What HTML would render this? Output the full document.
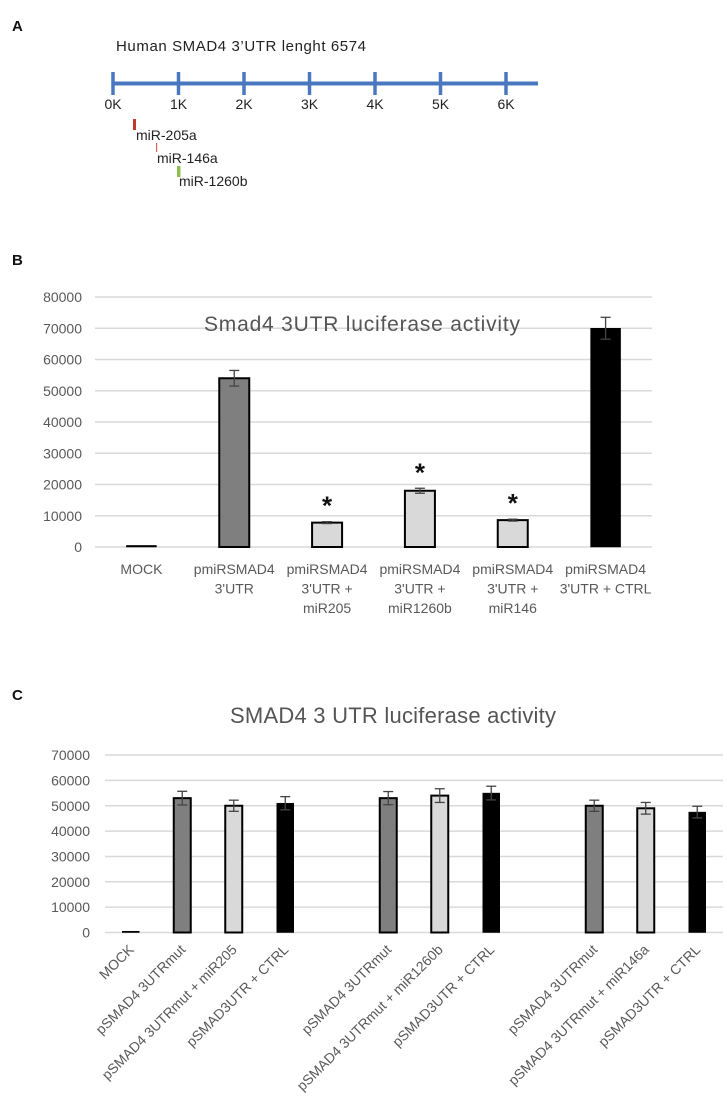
<!DOCTYPE html>
<html><head><meta charset="utf-8"><style>
html,body{margin:0;padding:0;background:#fff;}
svg{display:block;font-family:"Liberation Sans",sans-serif;}
</style></head><body>
<svg id="fig" width="727" height="1106" viewBox="0 0 727 1106" xmlns="http://www.w3.org/2000/svg">
<g id="panelA">
<text x="12" y="31" font-size="15" font-weight="bold" fill="#111">A</text>
<text x="116" y="51" font-size="15" fill="#222" textLength="250">Human SMAD4 3’UTR lenght 6574</text>
<line x1="113" y1="83.5" x2="538" y2="83.5" stroke="#4a78c0" stroke-width="4"/>
<g id="utrTicks"></g>
<rect x="133" y="119" width="3" height="11" fill="#c0392b"/>
<text x="136" y="140" font-size="14" fill="#222">miR-205a</text>
<rect x="156" y="143" width="1.2" height="9" fill="#e06060"/>
<text x="157" y="163" font-size="14" fill="#222">miR-146a</text>
<rect x="177" y="166" width="3.5" height="11" fill="#8dc050"/>
<text x="179" y="186" font-size="14" fill="#222">miR-1260b</text>
</g>
<g id="panelB">
<text x="12" y="265" font-size="15" font-weight="bold" fill="#111">B</text>
<g id="gridB"></g>
<g id="barsB"></g>
<text x="204" y="331" font-size="21" fill="#555" textLength="316">Smad4 3UTR luciferase activity</text>
</g>
<g id="panelC">
<text x="12" y="700" font-size="15" font-weight="bold" fill="#111">C</text>
<text x="230" y="723" font-size="22" fill="#555" textLength="326">SMAD4 3 UTR luciferase activity</text>
<g id="gridC"></g>
<g id="barsC"></g>
</g>
</svg>
<script>
// Panel A data
const utrTickLabels = ["0K","1K","2K","3K","4K","5K","6K"];
// Panel B data
const bCategories = [["MOCK"],["pmiRSMAD4","3'UTR"],["pmiRSMAD4","3'UTR +","miR205"],["pmiRSMAD4","3'UTR +","miR1260b"],["pmiRSMAD4","3'UTR +","miR146"],["pmiRSMAD4","3'UTR + CTRL"]];
const bValues = [500, 54000, 7800, 18000, 8600, 70000];
const bErrors = [0, 2500, 300, 800, 300, 3500];
const bStars = [false, false, true, true, true, false];
const bTypes = ["dark","mid","light","light","light","dark"];
const bTicks = [0,10000,20000,30000,40000,50000,60000,70000,80000];
// Panel C data
const cCategories = ["MOCK","pSMAD4 3UTRmut","pSMAD4 3UTRmut + miR205","pSMAD3UTR + CTRL","","pSMAD4 3UTRmut","pSMAD4 3UTRmut + miR1260b","pSMAD3UTR + CTRL","","pSMAD4 3UTRmut","pSMAD4 3UTRmut + miR146a","pSMAD3UTR + CTRL"];
const cValues = [500, 53000, 50000, 51000, null, 53000, 54000, 55000, null, 50000, 49000, 47500];
const cErrors = [0, 2700, 2200, 2600, 0, 2600, 2700, 2700, 0, 2200, 2300, 2300];
const cTypes = ["dark","mid","light","dark","","mid","light","dark","","mid","light","dark"];
const cTicks = [0,10000,20000,30000,40000,50000,60000,70000];

const NS="http://www.w3.org/2000/svg";
function mk(tag, attrs, parent){const e=document.createElementNS(NS,tag);for(const k in attrs)e.setAttribute(k,attrs[k]);parent.appendChild(e);return e;}
const fills={dark:"#000",mid:"#7f7f7f",light:"#d9d9d9"};

// Panel A ticks
const tA=document.getElementById("utrTicks");
const ax=i=>113+i*65.5;
utrTickLabels.forEach((l,i)=>{
  const t=mk("line",{x1:ax(i),x2:ax(i),y1:72,y2:95,stroke:"#4a78c0","stroke-width":3.5},tA);
  
  
  const tx=mk("text",{x:ax(i),y:109,"font-size":14,fill:"#222","text-anchor":"middle"},tA);
  tx.textContent=l;
  
  
});

function drawChart(opt){
  const g=document.getElementById(opt.grid), b=document.getElementById(opt.bars);
  const y=v=>opt.y0-(v/10000)*opt.step;
  const xc=i=>opt.x0+(i+0.5)*(opt.x1-opt.x0)/opt.n;
  opt.ticks.forEach(t=>{
    const ln=mk("line",{x1:opt.x0,x2:opt.x1,y1:y(t),y2:y(t),stroke:"#d9d9d9","stroke-width":1.5},g);
    
    
    const tx=mk("text",{x:opt.lx,y:y(t)+5,"font-size":14,fill:"#595959","text-anchor":"end"},g);
    tx.textContent=String(t);
    
    
  });
  opt.values.forEach((v,i)=>{
    if(v==null)return;
    const c=xc(i), w=opt.bw, top=y(v);
    const r=mk("rect",{x:c-w/2,y:top,width:w,height:opt.y0-top,fill:fills[opt.types[i]],stroke:"#000","stroke-width":opt.types[i]==="dark"?0.5:2},b);
    
    
    const e=opt.errors[i];
    if(e>0){
      const eg=mk("g",{stroke:"#444","stroke-width":1.3},b);
      
      
      mk("line",{x1:c,x2:c,y1:y(v+e),y2:y(v-e)},eg);
      mk("line",{x1:c-5,x2:c+5,y1:y(v+e),y2:y(v+e)},eg);
      mk("line",{x1:c-5,x2:c+5,y1:y(v-e),y2:y(v-e)},eg);
    }
    if(opt.stars && opt.stars[i]){
      const s=mk("text",{x:c,y:y(v+(e||0))-7,"font-size":26,"font-weight":"bold",fill:"#111","text-anchor":"middle"},b);
      s.textContent="*";
      s.textContent="*";
      
      
    }
  });
  opt.cats.forEach((cat,i)=>{
    const c=xc(i);
    if(opt.rotate){
      if(!cat)return;
      const tx=mk("text",{x:c+4,y:opt.y0+18,"font-size":14,fill:"#595959","text-anchor":"end",transform:`rotate(-45 ${c+4} ${opt.y0+18})`},b);
      tx.textContent=cat;
      
      
    } else {
      cat.forEach((line,j)=>{
        const tx=mk("text",{x:c,y:opt.y0+27+j*19.5,"font-size":14,fill:"#595959","text-anchor":"middle"},b);
        tx.textContent=line;
        
        
      });
    }
  });
}
drawChart({grid:"gridB",bars:"barsB",x0:95,x1:652,n:bValues.length,y0:547,step:31.25,lx:82,bw:30,
  ticks:bTicks,values:bValues,errors:bErrors,types:bTypes,stars:bStars,cats:bCategories,rotate:false});
drawChart({grid:"gridC",bars:"barsC",x0:105,x1:723,n:cValues.length,y0:932.5,step:25.35,lx:90,bw:17,
  ticks:cTicks,values:cValues,errors:cErrors,types:cTypes,stars:null,cats:cCategories,rotate:true});
</script>
</body></html>
